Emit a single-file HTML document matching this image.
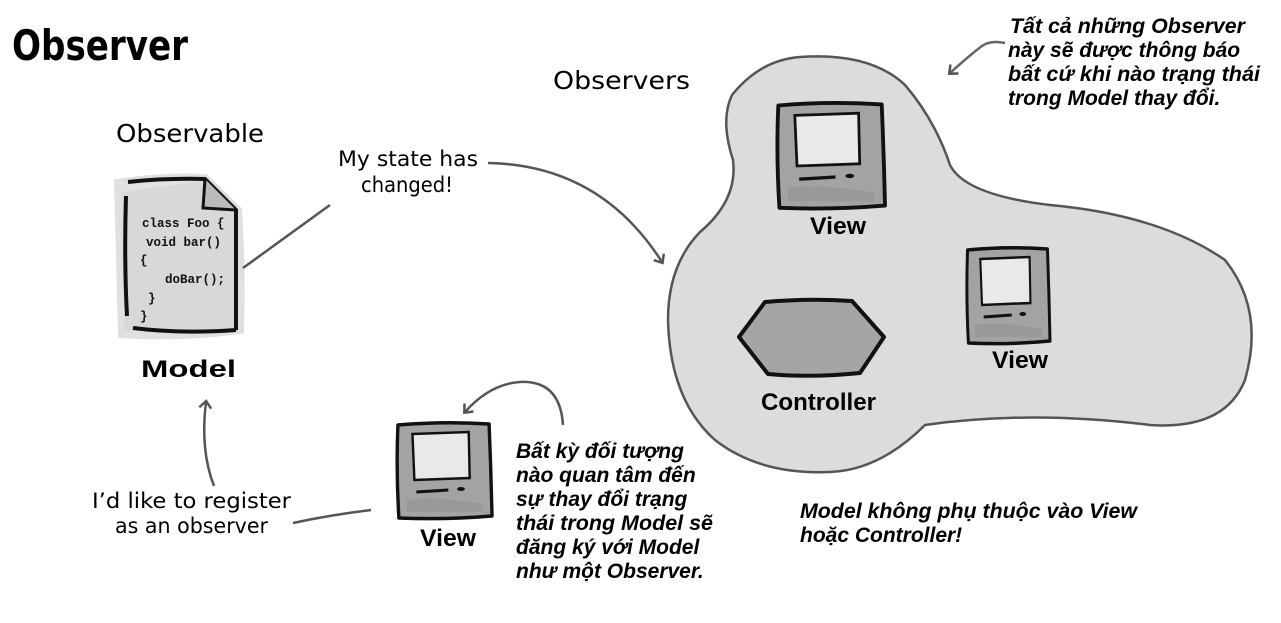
<!DOCTYPE html>
<html><head><meta charset="utf-8"><style>
html,body{margin:0;padding:0;background:#fff;}
svg{display:block;}
.hand{font-family:"DejaVu Sans",sans-serif;}
.bi{font-family:"Liberation Sans",sans-serif;font-weight:bold;font-style:italic;font-size:21px;fill:#000;}
.lbl{font-family:"Liberation Sans",sans-serif;font-weight:bold;font-size:24px;fill:#000;}
</style></head><body>
<svg width="1281" height="623" viewBox="0 0 1281 623" xmlns="http://www.w3.org/2000/svg">
<defs>
<g id="mon">
<path d="M3,5 Q50,1 97,4 Q99,50 100,96 Q50,100 4,98 Q1,50 3,5 Z" fill="#a3a3a3" stroke="#111" stroke-width="3.5" stroke-linejoin="round"/>
<path d="M18,14 L76,12 L77,58 L20,60 Z" fill="#e9e9e9" stroke="#111" stroke-width="2.5"/>
<path d="M22,72 L55,70" stroke="#111" stroke-width="3"/>
<ellipse cx="68" cy="69" rx="4" ry="2" fill="#111"/>
<path d="M12,80 Q40,76 90,84 L90,92 L12,92 Z" fill="#8f8f8f" opacity="0.5"/>
</g>
<marker id="ah" markerWidth="14" markerHeight="14" refX="7" refY="7" orient="auto" markerUnits="userSpaceOnUse">
<path d="M1,1 L8,7 L1,13" fill="none" stroke="#555" stroke-width="2.5"/>
</marker>
</defs>

<text x="12" y="60" class="hand" font-size="42" font-weight="bold" textLength="176" lengthAdjust="spacingAndGlyphs">Observer</text>
<text x="116" y="142" class="hand" font-size="25" textLength="148" lengthAdjust="spacingAndGlyphs">Observable</text>
<text x="553" y="89" class="hand" font-size="25" textLength="137" lengthAdjust="spacingAndGlyphs">Observers</text>
<text x="338" y="166" class="hand" font-size="21" textLength="140" lengthAdjust="spacingAndGlyphs">My state has</text>
<text x="361" y="192" class="hand" font-size="21" textLength="92" lengthAdjust="spacingAndGlyphs">changed!</text>

<!-- cloud -->
<path d="M732,95 Q760,60 800,57 Q870,52 905,85 Q935,120 950,165 Q965,195 1050,205 Q1160,215 1225,260 Q1265,310 1245,380 Q1225,430 1150,425 Q1030,410 925,425 Q880,470 830,472 Q760,475 715,440 Q670,400 668,320 Q668,265 700,232 Q738,200 733,160 Q720,120 732,95 Z" fill="#dcdcdc" stroke="#555" stroke-width="2.5"/>

<!-- model doc -->
<path d="M118,183 Q160,176 205,178 L238,210 Q242,270 240,330 Q180,338 122,334 Q120,260 118,183 Z" fill="#cfcfcf" stroke="#ccc" stroke-width="8" opacity="0.6"/>
<path d="M122,192 Q124,260 124,330 L236,330 Q238,270 236,210 L208,180" fill="#d8d8d8" stroke="none"/>
<path d="M128,182 Q165,178 205,179 L236,210 L236,330" fill="none" stroke="#111" stroke-width="4" stroke-linejoin="round"/>
<path d="M205,179 L203,208 L236,210" fill="#bbb" stroke="#111" stroke-width="3"/>
<path d="M126,196 Q124,260 127,316" fill="none" stroke="#111" stroke-width="4"/>
<path d="M133,328 Q180,334 236,330" fill="none" stroke="#111" stroke-width="4"/>
<g font-family="Liberation Mono,monospace" font-size="12.5" font-weight="bold" fill="#111">
<text x="142" y="227">class Foo {</text>
<text x="146" y="246">void bar()</text>
<text x="140" y="264">{</text>
<text x="165" y="283">doBar();</text>
<text x="148" y="302">}</text>
<text x="140" y="320">}</text>
</g>
<text x="141" y="377" class="lbl" font-size="30" textLength="95" lengthAdjust="spacingAndGlyphs">Model</text>

<!-- connector model to label -->
<path d="M243,268 L330,205" stroke="#555" stroke-width="2.5" fill="none"/>
<path d="M488,163 Q600,165 662,262" stroke="#555" stroke-width="2.5" fill="none" marker-end="url(#ah)"/>

<!-- monitors -->
<g transform="translate(775,100) scale(1.1,1.1)"><use href="#mon"/></g>
<text x="810" y="234" class="lbl" textLength="56" lengthAdjust="spacingAndGlyphs">View</text>
<g transform="translate(965,245) scale(0.85,1.0)"><use href="#mon"/></g>
<text x="992" y="368" class="lbl" textLength="56" lengthAdjust="spacingAndGlyphs">View</text>
<g transform="translate(395,420) scale(0.97,1.0)"><use href="#mon"/></g>
<text x="420" y="546" class="lbl" textLength="56" lengthAdjust="spacingAndGlyphs">View</text>

<!-- controller -->
<path d="M765,302 Q810,298 852,301 L884,337 L860,373 Q810,378 768,374 L739,337 Z" fill="#a5a5a5" stroke="#111" stroke-width="4" stroke-linejoin="round"/>
<text x="761" y="410" class="lbl" textLength="115" lengthAdjust="spacingAndGlyphs">Controller</text>

<!-- arrows -->
<path d="M1005,43 Q990,40 982,46 Q970,55 950,73" stroke="#666" stroke-width="2.5" fill="none" marker-end="url(#ah)"/>
<path d="M563,425 Q560,380 520,382 Q490,384 465,412" stroke="#555" stroke-width="2.5" fill="none" marker-end="url(#ah)"/>
<path d="M214,486 Q200,450 206,402" stroke="#555" stroke-width="2.5" fill="none" marker-end="url(#ah)"/>
<path d="M293,523 Q330,515 371,510" stroke="#555" stroke-width="2.5" fill="none"/>

<text x="92" y="508" class="hand" font-size="21" textLength="199" lengthAdjust="spacingAndGlyphs">I’d like to register</text>
<text x="115" y="533" class="hand" font-size="21" textLength="153" lengthAdjust="spacingAndGlyphs">as an observer</text>

<g class="bi">
<text x="1010" y="33" textLength="235" lengthAdjust="spacingAndGlyphs">Tất cả những Observer</text>
<text x="1008" y="57">này sẽ được thông báo</text>
<text x="1008" y="81" textLength="252" lengthAdjust="spacingAndGlyphs">bất cứ khi nào trạng thái</text>
<text x="1008" y="105">trong Model thay đổi.</text>
<text x="516" y="458">Bất kỳ đối tượng</text>
<text x="516" y="482">nào quan tâm đến</text>
<text x="516" y="506">sự thay đổi trạng</text>
<text x="516" y="530" textLength="197" lengthAdjust="spacingAndGlyphs">thái trong Model sẽ</text>
<text x="516" y="554">đăng ký với Model</text>
<text x="516" y="578">như một Observer.</text>
<text x="800" y="518" textLength="337" lengthAdjust="spacingAndGlyphs">Model không phụ thuộc vào View</text>
<text x="800" y="542">hoặc Controller!</text>
</g>
</svg>
</body></html>
